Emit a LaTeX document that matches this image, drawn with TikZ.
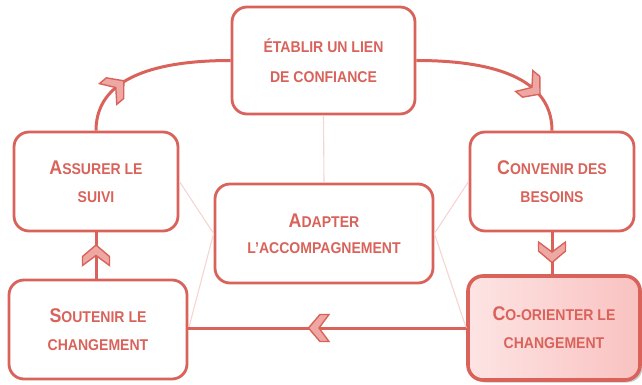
\documentclass[tikz,border=0pt]{standalone}
\usepackage{fontspec}
\setmainfont{Liberation Sans}[FakeStretch=0.9]
\usepackage{tikz}
\usetikzlibrary{decorations.markings,shadows}
\definecolor{Coral}{HTML}{D9635B}
\definecolor{Blush}{HTML}{F6D4D1}
\definecolor{Rose}{HTML}{EEA8A3}
\definecolor{PinkL}{HTML}{FDE4E4}
\definecolor{PinkR}{HTML}{F9C2C0}
\newcommand{\initial}[1]{{\fontsize{19.8}{19.8}\selectfont #1}}
\newcommand{\chevron}{\draw[Coral,fill=Rose,line width=1.4pt,line join=miter]
  (10.5pt,0pt) -- (-1pt,-13.5pt) -- (-10pt,-13.5pt) -- (0pt,0pt) -- (-10pt,13.5pt) -- (-1pt,13.5pt) -- cycle;}

\begin{document}
\begin{tikzpicture}[x=1pt,y=-1pt,
      stage/.style={draw=Coral,line width=2.8pt,rounded corners=15pt,fill=white,
        text=Coral,align=center,font=\bfseries\fontsize{15.6}{28}\selectfont},
      conn/.style={Coral,line width=3pt},
      thin/.style={Blush,line width=1.1pt},
      chevat/.style={postaction={decorate,decoration={markings,
        mark=at position #1 with {\chevron}}}}
    ]
      \useasboundingbox (0,0) rectangle (642,385);
      \node[stage,minimum width=183pt,minimum height=107pt,
        font=\bfseries\fontsize{15.6}{30}\selectfont] (trust) at (323.5,60.5)
        {ÉTABLIR UN LIEN\\DE CONFIANCE};
      \node[stage,minimum width=164pt,minimum height=99pt] (followup) at (96,181.5)
        {\initial{A}SSURER LE\\SUIVI};
      \node[stage,minimum width=164pt,minimum height=99pt] (needs) at (552,181.5)
        {\initial{C}ONVENIR DES\\BESOINS};
      \node[stage,minimum width=218pt,minimum height=99pt,
        font=\bfseries\fontsize{15.6}{26}\selectfont] (adapt) at (324,233.5)
        {\initial{A}DAPTER\\L’ACCOMPAGNEMENT};
      \node[stage,minimum width=178pt,minimum height=99pt] (support) at (98,329.5)
        {\initial{S}OUTENIR LE\\CHANGEMENT};
      \node[stage,line width=3.6pt,left color=PinkL,right color=PinkR,
        drop shadow={shadow xshift=2.5pt,shadow yshift=-2.5pt,fill=black!45,opacity=.45},
        minimum width=172pt,minimum height=104pt] (coorient) at (554,328)
        {\initial{C}O-ORIENTER LE\\CHANGEMENT};
      % links to the centre
      \draw[thin] (trust.south) -- (adapt.north);
      \draw[thin] (followup.east) -- (adapt.west);
      \draw[thin] (needs.west) -- (adapt.east);
      \draw[thin] (adapt.west) -- (support.east);
      \draw[thin] (adapt.east) -- (coorient.west);
      % the cycle
      \draw[conn,chevat=0.71] (trust.east) to[out=0,in=90] (needs.north);
      \draw[conn,chevat=0.47] (needs.south) -- (needs.south |- coorient.north);
      \draw[conn,chevat=0.53] (coorient.west) -- (coorient.west -| support.east);
      \draw[conn,chevat=0.5] (followup.south |- support.north) -- (followup.south);
      \draw[conn,chevat=0.29] (followup.north) to[out=90,in=180] (trust.west);
    \end{tikzpicture}
\end{document}
